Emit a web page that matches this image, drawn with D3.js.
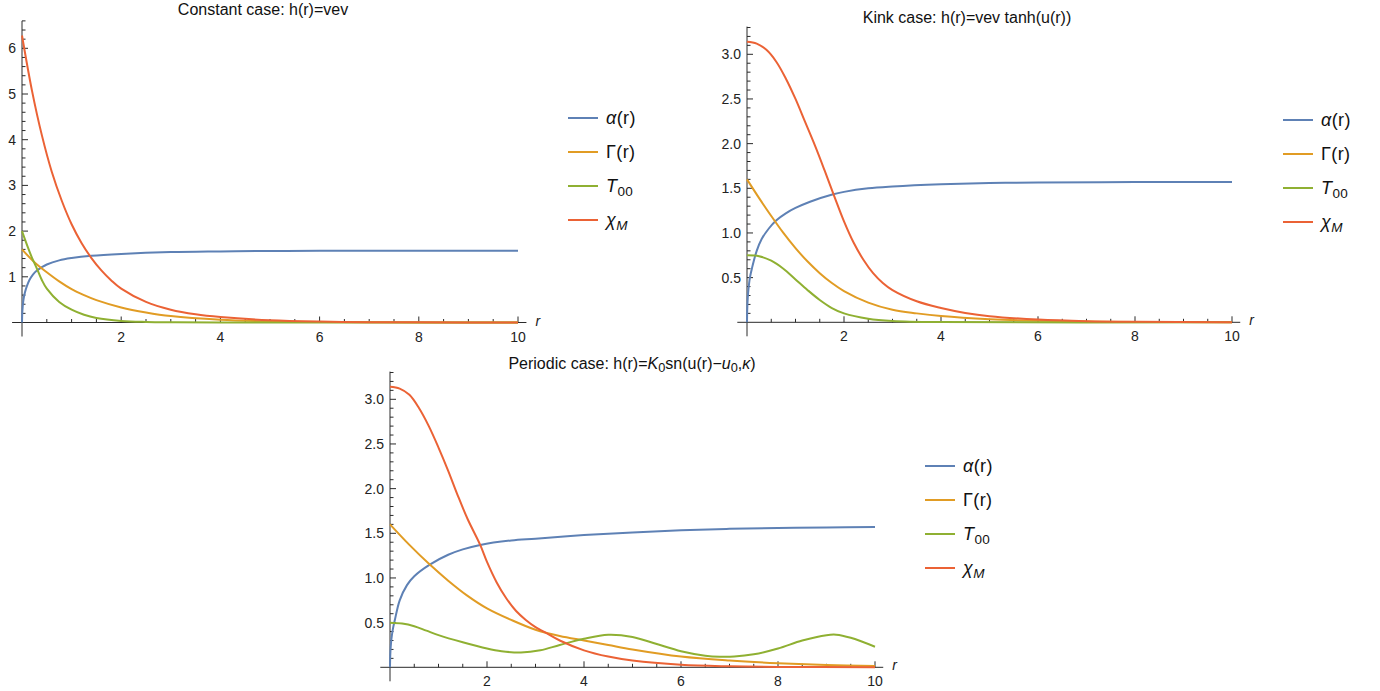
<!DOCTYPE html>
<html><head><meta charset="utf-8">
<script src="https://cdn.jsdelivr.net/npm/d3@7"></script>
<style>
body{margin:0;background:#fff;}
svg{font-family:"Liberation Sans",Arial,Helvetica,sans-serif;}
</style></head>
<body><svg id="c" width="1380" height="691"></svg>
<script>
// ---------- DATA ----------
const seriesNames = ["α(r)", "Γ(r)", "T00", "χM"];
const seriesColors = ["#5E81B5", "#E19C24", "#8FB032", "#EB6235"];

// Constant case
const constAlphaR = [0,0.005,0.015,0.03,0.06,0.1,0.15,0.22,0.3,0.4,0.5,0.75,1,1.4,2,3,4,5,6,8,10];
const constAlphaV = [0,0.2,0.36,0.5,0.66,0.8,0.93,1.05,1.14,1.21,1.27,1.36,1.41,1.46,1.5,1.54,1.555,1.565,1.57,1.57,1.57];
const constGammaR = [0,0.25,0.5,0.75,1,1.25,1.5,2,2.5,3,4,5,6,8,10];
const constGammaV = [1.6,1.32,1.1,0.9,0.73,0.6,0.49,0.33,0.22,0.14,0.06,0.025,0.01,0.002,0];
const constT00R = [0,0.1,0.2,0.3,0.4,0.5,0.75,1,1.25,1.5,2,2.5,3,4,10];
const constT00V = [2.0,1.7,1.42,1.18,0.93,0.74,0.45,0.28,0.17,0.1,0.035,0.012,0.004,0,0];
const constChiR = [0,0.2,0.4,0.6,0.8,1,1.2,1.4,1.6,1.8,2,2.5,3,3.5,4,5,6,7,8,10];
const constChiV = [6.28,5.08,4.1,3.3,2.67,2.15,1.74,1.41,1.14,0.92,0.74,0.45,0.28,0.18,0.12,0.05,0.02,0.008,0.003,0];

// Kink case
const kinkAlphaR = [0,0.005,0.015,0.03,0.06,0.1,0.2,0.3,0.45,0.6,0.8,1,1.3,1.76,2,2.5,3,4,5,6,8,10];
const kinkAlphaV = [0,0.15,0.27,0.37,0.5,0.6,0.8,0.93,1.05,1.14,1.22,1.28,1.35,1.43,1.46,1.5,1.52,1.545,1.56,1.565,1.57,1.57];
const kinkGammaR = [0,0.25,0.5,0.75,1,1.25,1.5,1.75,2,2.5,3,3.5,4,5,6,8,10];
const kinkGammaV = [1.6,1.39,1.19,1.0,0.83,0.68,0.55,0.44,0.35,0.22,0.14,0.1,0.07,0.035,0.017,0.004,0.001];
const kinkT00R = [0,0.25,0.5,0.75,1,1.25,1.5,1.75,2,2.5,3,4,10];
const kinkT00V = [0.75,0.74,0.69,0.6,0.48,0.36,0.25,0.16,0.1,0.04,0.015,0.002,0];
const kinkChiR = [0,0.2,0.4,0.6,0.8,1,1.2,1.4,1.6,1.8,2,2.2,2.4,2.6,2.8,3,3.5,4,4.5,5,6,7,8,10];
const kinkChiV = [3.14,3.12,3.05,2.92,2.73,2.5,2.24,1.98,1.7,1.41,1.13,0.89,0.7,0.55,0.44,0.36,0.235,0.16,0.105,0.068,0.03,0.012,0.005,0.001];

// Periodic case
const perAlphaR = [0,0.005,0.015,0.03,0.06,0.1,0.2,0.35,0.5,0.82,1.2,1.5,1.86,2.5,3,4,5,6,7,8,9,10];
const perAlphaV = [0,0.13,0.23,0.32,0.43,0.53,0.75,0.92,1.02,1.15,1.26,1.32,1.37,1.42,1.44,1.48,1.51,1.535,1.55,1.56,1.565,1.57];
const perGammaR = [0,0.4,0.82,1.2,1.6,2,2.5,3,3.5,4,4.5,5,6,7,8,9,10];
const perGammaV = [1.6,1.37,1.15,0.97,0.8,0.66,0.53,0.42,0.35,0.3,0.25,0.2,0.12,0.075,0.045,0.025,0.015];
const perT00R = [0,0.25,0.5,0.75,1,1.5,2,2.3,2.7,3.1,3.5,4,4.5,5,5.5,6,6.5,6.8,7.1,7.5,8,8.5,9,9.2,9.5,10];
const perT00V = [0.5,0.49,0.46,0.41,0.36,0.28,0.21,0.18,0.165,0.19,0.25,0.32,0.365,0.34,0.26,0.18,0.13,0.118,0.12,0.145,0.21,0.3,0.36,0.365,0.33,0.23];
const perChiR = [0,0.2,0.4,0.6,0.8,1,1.2,1.4,1.6,1.86,2,2.2,2.4,2.6,2.8,3,3.2,3.5,4,4.5,5,6,7,8,10];
const perChiV = [3.14,3.12,3.05,2.9,2.7,2.46,2.2,1.92,1.66,1.37,1.18,0.95,0.77,0.63,0.53,0.45,0.39,0.3,0.19,0.12,0.075,0.028,0.011,0.004,0.001];

const xTickValues = [2,4,6,8,10];
const constYTicks = [1,2,3,4,5,6];
const kinkYTicks = [0.5,1.0,1.5,2.0,2.5,3.0];

// ---------- DRAWING ----------
const svg = d3.select("#c");
const zip = (r, v) => r.map((d, i) => [d, v[i]]);

function italicSub(sel, parts){
  parts.forEach(p => {
    const t = sel.append("tspan").text(p.t);
    if (p.i) t.attr("font-style", "italic");
    if (p.sub) t.attr("baseline-shift", "-25%").attr("font-size", p.fs || "0.75em");
  });
}

function panel(cfg){
  const g = svg.append("g");
  const x = d3.scaleLinear().domain([0,10]).range(cfg.xr);
  const y = d3.scaleLinear().domain(cfg.yd).range(cfg.yr);
  const axisCol = "#2a2a2a";
  g.append("line").attr("x1", x(-0.2)).attr("x2", x(10.17)).attr("y1", y(0)).attr("y2", y(0))
    .attr("stroke", axisCol).attr("stroke-width", 1);
  g.append("line").attr("x1", x(0)).attr("x2", x(0)).attr("y1", y(0) + 14).attr("y2", y(cfg.ytop))
    .attr("stroke", axisCol).attr("stroke-width", 1);
  const xMinor = d3.range(0.5, 10.01, 0.5);
  g.selectAll(".xt").data(xMinor).join("line")
    .attr("x1", d => x(d)).attr("x2", d => x(d))
    .attr("y1", y(0)).attr("y2", d => y(0) - (Math.abs(d % 2) < 1e-9 ? 6 : 3.5))
    .attr("stroke", axisCol).attr("stroke-width", 1);
  g.selectAll(".xl").data(xTickValues).join("text")
    .attr("x", d => x(d)).attr("y", y(0) + 19).attr("text-anchor", "middle")
    .attr("font-size", 14).attr("fill", "#222").text(d => d);
  const yMinor = d3.range(cfg.yminor, cfg.ytop + 1e-9, cfg.yminor);
  g.selectAll(".yt").data(yMinor).join("line")
    .attr("x1", x(0)).attr("x2", d => x(0) + (cfg.ymajor.some(m => Math.abs(m - d) < 1e-6) ? 6 : 3.5))
    .attr("y1", d => y(d)).attr("y2", d => y(d))
    .attr("stroke", axisCol).attr("stroke-width", 1);
  g.selectAll(".yl").data(cfg.ymajor).join("text")
    .attr("x", x(0) - 6).attr("y", d => y(d) + 5).attr("text-anchor", "end")
    .attr("font-size", 14).attr("fill", "#222").text(d => cfg.yfmt(d));
  g.append("text").attr("x", x(10.17) + 9).attr("y", y(0) + 3).attr("font-size", 14)
    .attr("font-style", "italic").attr("fill", "#222").text("r");
  const line = d3.line().x(d => x(d[0])).y(d => y(d[1])).curve(d3.curveCatmullRom.alpha(0.5));
  cfg.series.forEach((s, i) => {
    g.append("path").datum(s).attr("d", line).attr("fill", "none")
      .attr("stroke", seriesColors[i]).attr("stroke-width", 2).attr("stroke-linejoin", "round");
  });
  const t = g.append("text").attr("x", cfg.tx).attr("y", cfg.ty).attr("text-anchor", "middle")
    .attr("font-size", 16).attr("fill", "#111");
  italicSub(t, cfg.title);
  const labels = [
    [{t:"α", i:true},{t:"(r)"}],
    [{t:"Γ(r)"}],
    [{t:"T", i:true},{t:"00", sub:true}],
    [{t:"χ", i:true},{t:"M", i:true, sub:true}]
  ];
  labels.forEach((lab, i) => {
    const ly = cfg.ly + i * 34;
    g.append("line").attr("x1", cfg.lx).attr("x2", cfg.lx + 30).attr("y1", ly).attr("y2", ly)
      .attr("stroke", seriesColors[i]).attr("stroke-width", 2);
    const tt = g.append("text").attr("x", cfg.lx + 38).attr("y", ly + 6).attr("font-size", 18)
      .attr("letter-spacing", 0.4).attr("fill", "#111");
    italicSub(tt, lab);
  });
}

panel({
  xr:[22,518], yd:[0,6], yr:[322.5,48.3], ytop:6.6, yminor:0.2, ymajor:constYTicks, yfmt:d=>d,
  series:[zip(constAlphaR,constAlphaV), zip(constGammaR,constGammaV), zip(constT00R,constT00V), zip(constChiR,constChiV)],
  tx:263, ty:15, title:[{t:"Constant case: h(r)=vev"}], lx:568, ly:118
});
panel({
  xr:[747,1232], yd:[0,3], yr:[322.3,54.3], ytop:3.31, yminor:0.1, ymajor:kinkYTicks, yfmt:d=>d.toFixed(1),
  series:[zip(kinkAlphaR,kinkAlphaV), zip(kinkGammaR,kinkGammaV), zip(kinkT00R,kinkT00V), zip(kinkChiR,kinkChiV)],
  tx:967, ty:23, title:[{t:"Kink case: h(r)=vev tanh(u(r))"}], lx:1283, ly:120
});
panel({
  xr:[390,875], yd:[0,3], yr:[667.3,399.3], ytop:3.31, yminor:0.1, ymajor:kinkYTicks, yfmt:d=>d.toFixed(1),
  series:[zip(perAlphaR,perAlphaV), zip(perGammaR,perGammaV), zip(perT00R,perT00V), zip(perChiR,perChiV)],
  tx:632, ty:369, title:[{t:"Periodic case: h(r)="},{t:"K",i:true},{t:"0",sub:true,fs:"0.8em"},{t:"sn(u(r)−"},{t:"u",i:true},{t:"0",sub:true,fs:"0.8em"},{t:","},{t:"κ",i:true},{t:")"}],
  lx:925, ly:466
});
</script>
</body></html>
